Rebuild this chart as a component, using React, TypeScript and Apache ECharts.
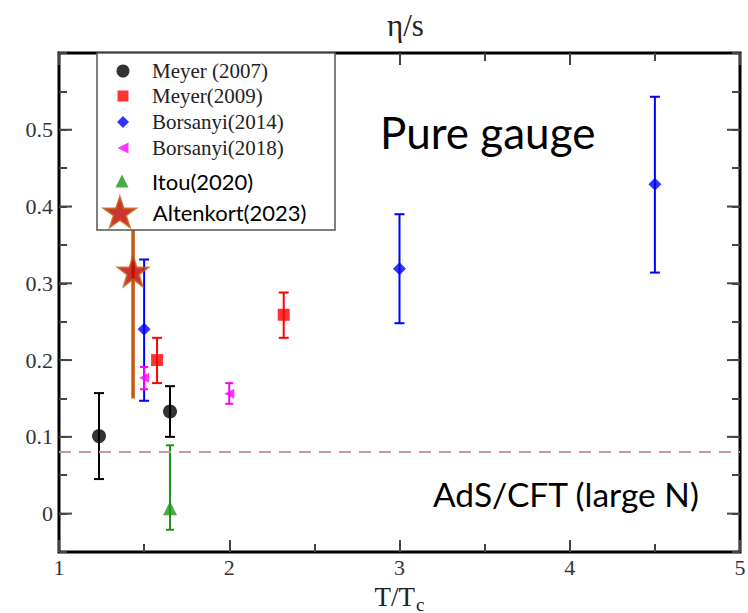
import React, { useEffect, useRef } from "react";
import * as echarts from "echarts";

// [T/Tc, eta/s, lower, upper]
const meyer2007 = [
  [1.235, 0.101, 0.045, 0.157],
  [1.652, 0.133, 0.100, 0.166],
];
const meyer2009 = [
  [1.576, 0.200, 0.170, 0.229],
  [2.32, 0.259, 0.229, 0.288],
];
const borsanyi2014 = [
  [1.5, 0.240, 0.147, 0.331],
  [3.0, 0.319, 0.248, 0.390],
  [4.5, 0.429, 0.314, 0.543],
];
const borsanyi2018 = [
  [1.5, 0.177, 0.162, 0.191],
  [2.0, 0.156, 0.143, 0.170],
];
const itou2020 = [[1.652, 0.007, -0.021, 0.089]];
const altenkort2023 = [[1.435, 0.316, 0.150, 0.40]];
const adsCftValue = 0.08;
const yMajorTicks = [0, 0.1, 0.2, 0.3, 0.4, 0.5];

const X_MIN = 1;
const X_MAX = 5;
const SERIF = "'Liberation Serif', 'Times New Roman', serif";
const SANS = "Lato, 'Open Sans', sans-serif";
const STAR =
  "path://M50,0 L61.8,35.4 L99,35.4 L69,57.3 L80.2,92.7 L50,70.8 L19.8,92.7 L31,57.3 L1,35.4 L38.2,35.4 Z";
const LEFT_TRI = "path://M10,0 L0,5 L10,10 Z";
const UP_TRI = "path://M5,0 L10,10 L0,10 Z";
const SQUARE = "path://M0,0 L10,0 L10,10 L0,10 Z";
const DIAMOND = "path://M5,0 L10,5 L5,10 L0,5 Z";
const CIRCLE = "circle";

function errSeries(rows: number[][], color: string, width: number, cap: number) {
  return {
    type: "custom",
    silent: true,
    z: 2,
    clip: false,
    data: rows.map((r) => [r[0], r[2], r[3]]),
    encode: { x: 0, y: [1, 2] },
    renderItem: (params: any, api: any) => {
      const x = api.value(0);
      const lo = api.coord([x, api.value(1)]);
      const hi = api.coord([x, api.value(2)]);
      const style = { stroke: color, lineWidth: width };
      const children: any[] = [
        { type: "line", shape: { x1: lo[0], y1: lo[1], x2: hi[0], y2: hi[1] }, style },
      ];
      if (cap > 0) {
        children.push(
          { type: "line", shape: { x1: lo[0] - cap / 2, y1: lo[1], x2: lo[0] + cap / 2, y2: lo[1] }, style },
          { type: "line", shape: { x1: hi[0] - cap / 2, y1: hi[1], x2: hi[0] + cap / 2, y2: hi[1] }, style }
        );
      }
      return { type: "group", children };
    },
  };
}

function pointSeries(name: string, rows: number[][], symbol: string, size: number, itemStyle: any) {
  return {
    type: "scatter",
    name,
    z: 3,
    symbol,
    symbolSize: size,
    itemStyle,
    data: rows.map((r) => [r[0], r[1]]),
  };
}

// legend item whose icon is centred at (cx, cy) and whose text starts at textX
function legendItem(name: string, cx: number, cy: number, iconH: number, textX: number, font: string, size: number) {
  const w = (textX - 5 - cx) * 2;
  const textH = size + 2;
  const h = Math.max(iconH, textH);
  return {
    left: cx - iconH / 2,
    top: cy - h / 2,
    padding: 0,
    itemWidth: w,
    itemHeight: iconH,
    selectedMode: false,
    z: 5,
    data: [name],
    textStyle: { fontFamily: font, fontSize: size, color: font === SERIF ? "#222" : "#000" },
  };
}

export default function App() {
  const ref = useRef<HTMLDivElement>(null);
  useEffect(() => {
    document.body.style.margin = "0";
    const chart = echarts.init(ref.current!, null, { renderer: "svg" });
    const tickColor = "#444";
    const tickWidth = 2;
    const yLabel = (v: number) => {
      const r = Math.round(v * 100);
      if (r < 0 || r > 50 || r % 10 !== 0) return "";
      return r === 0 ? "0" : (r / 100).toFixed(1);
    };
    const xAxisBase = {
      type: "value",
      min: X_MIN,
      max: X_MAX,
      interval: 1,
      z: 4,
      axisLine: { show: false, onZero: false },
      splitLine: { show: false },
      axisTick: { show: true, inside: true, length: 12, lineStyle: { color: tickColor, width: tickWidth } },
      minorTick: { show: true, splitNumber: 2, length: 8, lineStyle: { color: tickColor, width: tickWidth } },
    };
    const yAxisBase = {
      type: "value",
      min: -0.05,
      max: 0.6,
      interval: 0.05,
      z: 4,
      axisLine: { show: false, onZero: false },
      splitLine: { show: false },
      axisTick: { show: true, inside: true, length: 8, lineStyle: { color: tickColor, width: tickWidth } },
    };
    const option: any = {
      animation: false,
      title: {
        text: "η/s",
        left: 382,
        top: 5,
        textStyle: { fontFamily: SERIF, fontSize: 31, fontWeight: "normal", color: "#222" },
      },
      grid: {
        left: 59,
        right: 8,
        top: 53,
        bottom: 61,
        show: true,
        borderColor: "#000",
        borderWidth: 3,
        outerBoundsMode: "none",
      },
      xAxis: [
        {
          ...xAxisBase,
          position: "bottom",
          axisLabel: { fontFamily: SERIF, fontSize: 22, color: "#333", margin: 4 },
          name: "{t|T/T}{s|c}",
          nameLocation: "middle",
          nameGap: 23,
          nameTextStyle: {
            rich: {
              t: { fontFamily: SERIF, fontSize: 27, color: "#222", lineHeight: 30, verticalAlign: "top" },
              s: { fontFamily: SERIF, fontSize: 19, color: "#222", lineHeight: 30, padding: [12, 0, 0, 1] },
            },
          },
        },
        { ...xAxisBase, position: "top", axisLabel: { show: false } },
      ],
      yAxis: [
        {
          ...yAxisBase,
          position: "left",
          axisLabel: { fontFamily: SERIF, fontSize: 22, color: "#333", margin: 6, formatter: yLabel },
        },
        { ...yAxisBase, position: "right", axisLabel: { show: false } },
      ],
      legend: [
        legendItem("Meyer (2007)", 123, 72, 13, 152, SERIF, 21),
        legendItem("Meyer(2009)", 123, 97, 11, 152, SERIF, 21),
        legendItem("Borsanyi(2014)", 123, 123, 12, 152, SERIF, 21),
        legendItem("Borsanyi(2018)", 123, 149, 11, 152, SERIF, 21),
        legendItem("Itou(2020)", 122, 182, 13, 152, SANS, 22),
        legendItem("Altenkort(2023)", 118, 211, 30, 151, SANS, 22),
      ],
      graphic: [
        {
          type: "rect",
          z: 4.5,
          shape: { x: 97, y: 53, width: 238, height: 177 },
          style: { fill: "#fff", stroke: "#555", lineWidth: 1.5 },
        },
        {
          type: "text",
          z: 3,
          x: 380,
          y: 132,
          style: { text: "Pure gauge", fontFamily: SANS, fontSize: 44, fill: "#000", verticalAlign: "middle" },
        },
        {
          type: "text",
          z: 3,
          x: 433,
          y: 494,
          style: { text: "AdS/CFT (large N)", fontFamily: SANS, fontSize: 33.5, fill: "#000", verticalAlign: "middle" },
        },
      ],
      series: [
        {
          type: "custom",
          silent: true,
          z: 4,
          clip: false,
          data: yMajorTicks.map((v) => [X_MIN, v]),
          encode: { x: 0, y: 1 },
          renderItem: (params: any, api: any) => {
            const v = api.value(1);
            const a = api.coord([X_MIN, v]);
            const b = api.coord([X_MAX, v]);
            const style = { stroke: tickColor, lineWidth: tickWidth };
            return {
              type: "group",
              children: [
                { type: "line", shape: { x1: a[0], y1: a[1], x2: a[0] + 13, y2: a[1] }, style },
                { type: "line", shape: { x1: b[0], y1: b[1], x2: b[0] - 13, y2: b[1] }, style },
              ],
            };
          },
        },
        {
          type: "line",
          silent: true,
          data: [],
          markLine: {
            silent: true,
            symbol: "none",
            label: { show: false },
            lineStyle: { color: "#c49a9a", width: 2, type: [12, 8] },
            data: [{ yAxis: adsCftValue }],
          },
        },
        errSeries(altenkort2023, "#c55a11", 3.5, 0),
        errSeries(meyer2007, "#000", 2, 10),
        errSeries(meyer2009, "#ff0000", 2, 10),
        errSeries(borsanyi2014, "#0000ff", 2, 10),
        errSeries(borsanyi2018, "#ff00ff", 2, 8),
        errSeries(itou2020, "#1a961a", 2, 8),
        pointSeries("Meyer (2007)", meyer2007, CIRCLE, 14, { color: "#000" }),
        pointSeries("Meyer(2009)", meyer2009, SQUARE, 12, { color: "#ff0000" }),
        pointSeries("Borsanyi(2014)", borsanyi2014, DIAMOND, 13, { color: "#0000ff" }),
        pointSeries("Borsanyi(2018)", borsanyi2018, LEFT_TRI, 10, { color: "#ff00ff" }),
        pointSeries("Itou(2020)", itou2020, UP_TRI, 14, { color: "#1a961a" }),
        pointSeries("Altenkort(2023)", altenkort2023, STAR, 30, {
          color: "#c00000",
          borderColor: "#c55a11",
          borderWidth: 2,
        }),
      ],
    };
    chart.setOption(option);
    return () => chart.dispose();
  }, []);
  return <div ref={ref} style={{ width: 748, height: 613 }} />;
}
